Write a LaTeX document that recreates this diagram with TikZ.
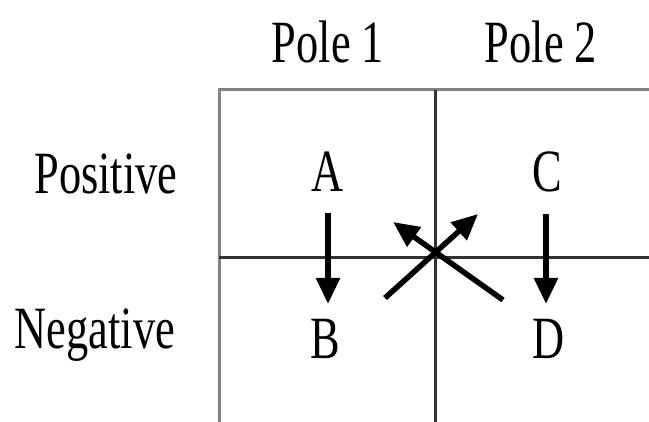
\documentclass[tikz,border=0pt]{standalone}
\usepackage{fontspec}
\usepackage{graphicx}
\setmainfont{Liberation Serif}
\usetikzlibrary{arrows.meta}
\newcommand{\sq}[1]{\scalebox{0.74}[1]{#1}}
\begin{document}
\begin{tikzpicture}[x=1pt,y=-1pt,
  lbl/.style={anchor=base,inner sep=0pt,font=\fontsize{60}{60}\selectfont},
  outerline/.style={line width=3pt,draw={rgb,255:red,130;green,130;blue,130}},
  innerline/.style={line width=3pt,draw={rgb,255:red,50;green,50;blue,50}},
  arr/.style={line width=5.5pt,line cap=butt,-{Triangle[width=23pt,length=26pt]}}]
\useasboundingbox (0,0) rectangle (649,422);
\fill[white] (0,0) rectangle (649,422);
% grid
\draw[outerline] (219,422) -- (219,90) -- (649,90);
\draw[innerline] (435,90) -- (435,422);
\draw[innerline] (219,258) -- (649,258);
% labels
\node[lbl] (p1) at (328,63) {\sq{Pole 1}};
\node[lbl] (p2) at (541,63) {\sq{Pole 2}};
\node[lbl] (pos) at (106,194) {\sq{Positive}};
\node[lbl] (neg) at (95,349) {\sq{Negative}};
\node[lbl] (A) at (327.5,192) {\sq{A}};
\node[lbl] (C) at (547,192) {\sq{C}};
\node[lbl] (B) at (325,359) {\sq{B}};
\node[lbl] (D) at (549,359) {\sq{D}};
% vertical arrows
\coordinate (a1) at (328,213);
\coordinate (b1) at (328,304);
\coordinate (c1) at (546,214);
\coordinate (d1) at (546,304);
\draw[arr] (a1) -- (b1);
\draw[arr] (c1) -- (d1);
% crossing arrows
\coordinate (x1s) at (385,298);
\coordinate (x1e) at (478,214);
\coordinate (x2s) at (503,300);
\coordinate (x2e) at (393,222);
\draw[arr] (x1s) -- (x1e);
\draw[arr] (x2s) -- (x2e);
\end{tikzpicture}
\end{document}
